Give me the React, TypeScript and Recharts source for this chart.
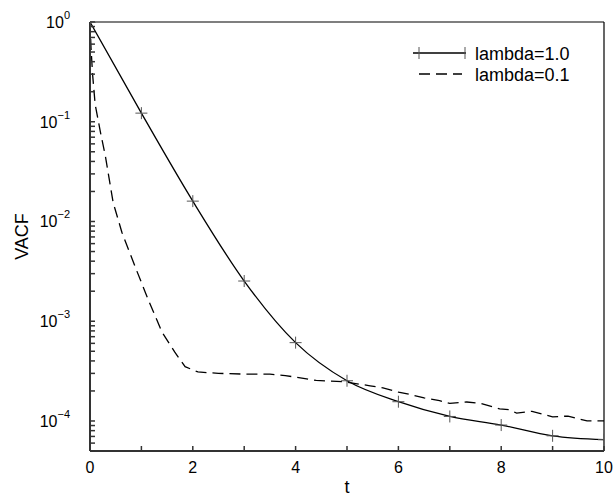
import React from 'react';
import { LineChart, Line, XAxis, YAxis, ReferenceLine } from 'recharts';

// lambda = 1.0 (solid, + markers)
const tSolid = [0, 1, 2, 3, 4, 5, 6, 7, 8, 9, 10];
const vSolid = [1.0, 0.122, 0.016, 0.00253, 0.00061, 0.000253, 0.000156, 0.000111, 0.000091, 0.000071, 0.000065];

// lambda = 0.1 (dashed)
const tDashed = [0, 0.02, 0.05, 0.1, 0.2, 0.3, 0.45, 0.62, 0.88, 1.13, 1.4, 1.65, 1.85, 2.1, 2.5, 3.0, 3.5, 3.8, 4.0, 4.4, 4.8, 5.0, 5.45, 5.7, 6.0, 6.2, 6.5, 6.8, 7.0, 7.33, 7.6, 7.97, 8.15, 8.3, 8.6, 9.0, 9.3, 9.5, 9.67, 10];
const vDashed = [1.0, 0.55, 0.3, 0.15, 0.08, 0.045, 0.0155, 0.0078, 0.0035, 0.00166, 0.00078, 0.00049, 0.00035, 0.00031, 0.0003, 0.000295, 0.000295, 0.000285, 0.000275, 0.000255, 0.00025, 0.000245, 0.000225, 0.000215, 0.000195, 0.000186, 0.00017, 0.00016, 0.00015, 0.000155, 0.00015, 0.000132, 0.00013, 0.00012, 0.000125, 0.00011, 0.000112, 0.000105, 0.0001, 0.0001];

const xTicks = [0, 1, 2, 3, 4, 5, 6, 7, 8, 9, 10];
const xLabelTicks = [0, 2, 4, 6, 8, 10];
const yDecades = [1, 0.1, 0.01, 0.001, 0.0001];
const yDecadeExp = ['0', '−1', '−2', '−3', '−4'];
const yMinorMult = [2, 3, 4, 5, 6, 7, 8, 9];
const yMinorBases = [0.00001, 0.0001, 0.001, 0.01, 0.1];

const solidData = tSolid.map((t, i) => ({ t, v: vSolid[i] }));
const dashedData = tDashed.map((t, i) => ({ t, v: vDashed[i] }));

const yTicks: number[] = [...yDecades];
yMinorBases.forEach((b) => yMinorMult.forEach((m) => {
  const v = parseFloat((b * m).toPrecision(3));
  if (v >= 0.00005 && v < 1) yTicks.push(v);
}));

const FONT = '"Liberation Sans", Arial, Helvetica, sans-serif';
const X_DOMAIN: [number, number] = [0, 10];
const Y_DOMAIN: [number, number] = [0.00005, 1];

const XTick = (props: any) => {
  const { x, y, payload } = props;
  if (!xLabelTicks.includes(payload.value)) return <g />;
  return (
    <text x={x} y={y + 22} textAnchor="middle" fontSize={16} fontFamily={FONT} fill="#000">
      {String(payload.value)}
    </text>
  );
};

const YTick = (props: any) => {
  const { x, y, payload } = props;
  const idx = yDecades.findIndex((d) => Math.abs(d - payload.value) / d < 1e-6);
  if (idx < 0) return <g />;
  return (
    <text x={x} y={y + 6} textAnchor="end" fontSize={16} fontFamily={FONT} fill="#000">
      10
      <tspan dy={-9} fontSize={11}>{yDecadeExp[idx]}</tspan>
    </text>
  );
};

const PlusDot = (props: any) => {
  const { cx, cy } = props;
  if (cx == null || cy == null) return null;
  const s = 6;
  return (
    <g>
      <line x1={cx - s} y1={cy} x2={cx + s} y2={cy} stroke="#555" strokeWidth={1} />
      <line x1={cx} y1={cy - s} x2={cx} y2={cy + s} stroke="#555" strokeWidth={1} />
    </g>
  );
};

const YLabel = (props: any) => {
  const vb = props.viewBox || {};
  const cx = 22;
  const cy = (vb.y || 0) + (vb.height || 0) / 2;
  return (
    <text x={cx} y={cy} transform={`rotate(-90, ${cx}, ${cy})`} textAnchor="middle" dominantBaseline="central" fontSize={18} fontFamily={FONT} fill="#000">
      VACF
    </text>
  );
};

export default function App() {
  return (
    <div style={{ position: 'absolute', left: 0, top: 0, width: 615, height: 498, background: '#fff' }}>
      <LineChart width={615} height={498} margin={{ top: 22, right: 11, bottom: 0, left: 0 }}>
        <XAxis
          type="number"
          dataKey="t"
          domain={X_DOMAIN}
          ticks={xTicks}
          interval={0}
          allowDataOverflow
          height={47}
          tickSize={-5}
          tickMargin={5}
          tickLine={{ stroke: '#333', strokeWidth: 1.5 }}
          tick={<XTick />}
          axisLine={{ stroke: '#333', strokeWidth: 2 }}
          label={{ value: 't', position: 'insideBottom', offset: 5, fontSize: 18, fill: '#000', fontFamily: FONT }}
        />
        <YAxis
          type="number"
          dataKey="v"
          scale="log"
          domain={Y_DOMAIN}
          ticks={yTicks}
          interval={0}
          allowDataOverflow
          width={90}
          tickSize={-5}
          tickMargin={25}
          tickLine={{ stroke: '#333', strokeWidth: 1.5 }}
          tick={<YTick />}
          axisLine={{ stroke: '#333', strokeWidth: 2 }}
          label={<YLabel />}
        />
        <ReferenceLine y={1} stroke="#000" strokeWidth={1.2} />
        <ReferenceLine x={10} stroke="#000" strokeWidth={1.2} />
        <Line
          data={dashedData}
          dataKey="v"
          type="linear"
          stroke="#000"
          strokeWidth={1.3}
          strokeDasharray="11 6"
          dot={false}
          activeDot={false}
          isAnimationActive={false}
          name="lambda=0.1"
        />
        <Line
          data={solidData}
          dataKey="v"
          type="monotone"
          stroke="#000"
          strokeWidth={1.3}
          dot={<PlusDot />}
          activeDot={false}
          isAnimationActive={false}
          name="lambda=1.0"
        />
      </LineChart>
      <svg width={200} height={50} style={{ position: 'absolute', left: 405, top: 38 }}>
        <line x1={8} y1={15} x2={61} y2={15} stroke="#000" strokeWidth={1.3} />
        <line x1={14} y1={9} x2={14} y2={21} stroke="#555" strokeWidth={1} />
        <line x1={60} y1={9} x2={60} y2={21} stroke="#555" strokeWidth={1} />
        <text x={70} y={21.5} fontSize={18} fontFamily={FONT} fill="#000">lambda=1.0</text>
        <line x1={14} y1={36} x2={57} y2={36} stroke="#000" strokeWidth={1.3} strokeDasharray="11 6" />
        <text x={70} y={43} fontSize={18} fontFamily={FONT} fill="#000">lambda=0.1</text>
      </svg>
    </div>
  );
}
